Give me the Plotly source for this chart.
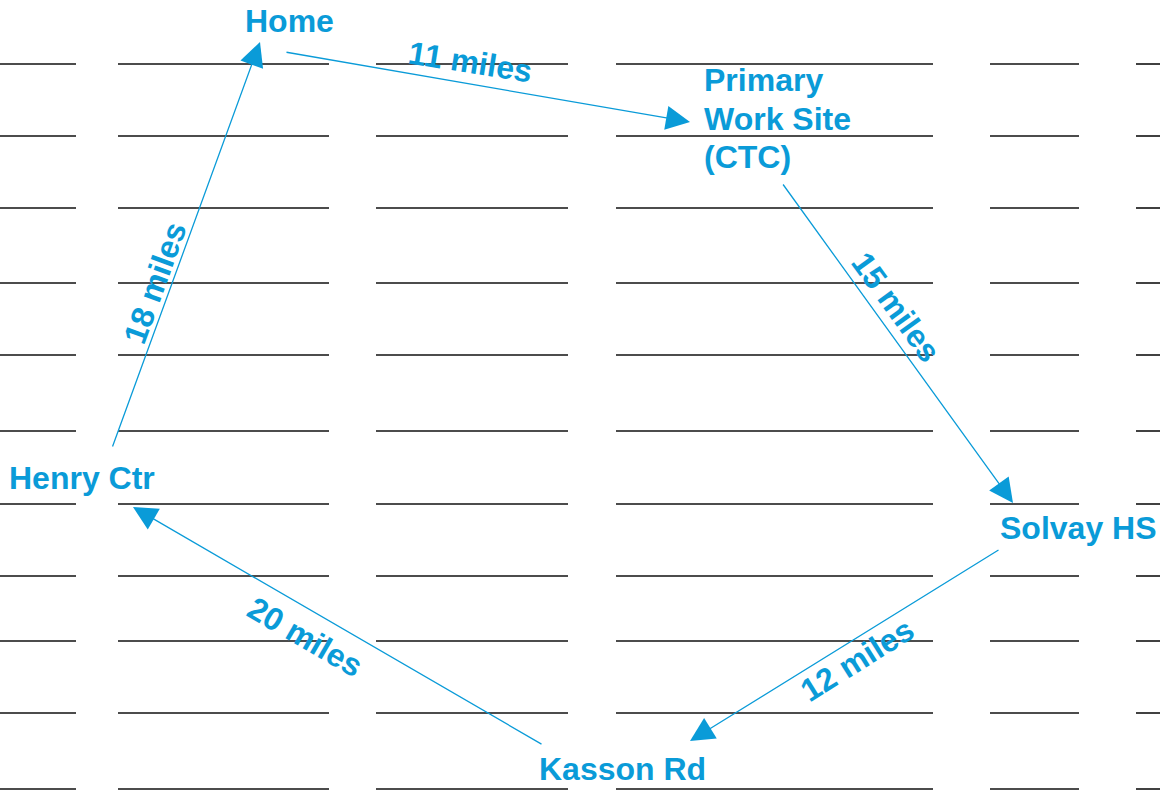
import plotly.graph_objects as go

# ---- data ----
# ruled background lines (y positions) and column segments (x start, x end)
rule_y = [64, 136, 208, 283, 355, 431, 504, 576, 641, 713, 789]
col_x0 = [0, 118, 376, 616, 990, 1136]
col_x1 = [76, 329, 568, 933, 1079, 1160]

# stops (label lines, label x, label y of first line, anchor)
stop_names = [["Home"], ["Primary", "Work Site", "(CTC)"], ["Solvay HS"], ["Kasson Rd"], ["Henry Ctr"]]
stop_x = [289, 702, 1078, 622, 82]
stop_y = [21, 80, 528, 769, 478]
stop_anchor = ["center", "left", "center", "center", "center"]
line_step = 38.5

# route legs: tail (from) and head (to) points
leg_from_x = [285, 782, 1000, 543, 112]
leg_from_y = [52, 183, 549, 745, 448]
leg_to_x = [690, 1013, 690, 133, 260]
leg_to_y = [122, 503, 741, 507, 42]

# distances
leg_miles = ["11 miles", "15 miles", "12 miles", "20 miles", "18 miles"]
leg_lab_x = [470, 896, 857, 305, 155]
leg_lab_y = [62, 307, 660, 637, 283]
leg_lab_angle = [9, 54, -32, 30, -70]

BLUE = "#0a9bd8"
FONT = "Liberation Sans"

fig = go.Figure()

# background ruled lines
xs, ys = [], []
for y in rule_y:
    for a, b in zip(col_x0, col_x1):
        xs += [a, b, None]
        ys += [y, y, None]
fig.add_trace(go.Scatter(x=xs, y=ys, mode="lines",
                         line=dict(color="#111111", width=1.6),
                         hoverinfo="skip", showlegend=False))

annotations = []
# arrows
for fx, fy, tx, ty in zip(leg_from_x, leg_from_y, leg_to_x, leg_to_y):
    annotations.append(dict(x=tx, y=ty, ax=fx, ay=fy, xref="x", yref="y",
                            axref="x", ayref="y", text="", showarrow=True,
                            arrowhead=2, arrowsize=3.7, arrowwidth=1.3,
                            arrowcolor=BLUE, standoff=0, startstandoff=0))
# stop labels
for lines, x, y, anc in zip(stop_names, stop_x, stop_y, stop_anchor):
    for i, name in enumerate(lines):
        annotations.append(dict(x=x, y=y + i * line_step, xref="x", yref="y",
                                text="<b>%s</b>" % name,
                                showarrow=False, xanchor=anc, yanchor="middle",
                                font=dict(family=FONT, size=32, color=BLUE)))
# distance labels
for t, x, y, ang in zip(leg_miles, leg_lab_x, leg_lab_y, leg_lab_angle):
    annotations.append(dict(x=x, y=y, xref="x", yref="y", text="<b>%s</b>" % t,
                            showarrow=False, textangle=ang,
                            xanchor="center", yanchor="middle",
                            font=dict(family=FONT, size=32, color=BLUE)))

fig.update_layout(
    width=1160, height=793,
    margin=dict(l=0, r=0, t=0, b=0),
    paper_bgcolor="white", plot_bgcolor="white",
    xaxis=dict(range=[0, 1160], visible=False, fixedrange=True),
    yaxis=dict(range=[793, 0], visible=False, fixedrange=True),
    annotations=annotations,
    showlegend=False,
)

fig.write_html("out.html",
               config={"displayModeBar": False},
               post_script="document.body.style.margin='0';document.body.style.overflow='hidden';")
